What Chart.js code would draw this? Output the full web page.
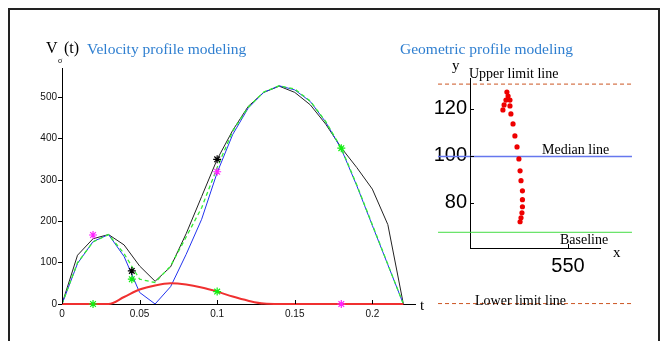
<!DOCTYPE html>
<html lang="en">
<head>
<meta charset="UTF-8">
<title>Velocity and geometric profile modeling</title>
<script src="https://cdn.jsdelivr.net/npm/chart.js"></script>
<style>
  body { margin: 0; width: 665px; height: 341px; background: #fff; position: relative; overflow: hidden; font-family: "Liberation Serif", serif; }
  .frame { position: absolute; left: 8px; top: 8px; width: 648px; height: 400px; border: 2px solid #222; }
  .box { position: absolute; top: 0; height: 341px; }
  .lbl { position: absolute; white-space: nowrap; line-height: 1; font-size: 14px; color: #000; }
  .title { color: #2f7fd0; font-size: 15.5px; }
</style>
</head>
<body>
<div class="frame"></div>
<div class="box" style="left:0;width:440px"><canvas id="velocityChart"></canvas></div>
<div class="box" style="left:420px;width:245px"><canvas id="geometryChart"></canvas></div>

<div class="lbl" style="left:46px;top:40px;font-size:16px">V</div>
<div class="lbl" style="left:58px;top:57px;font-size:8px">σ</div>
<div class="lbl" style="left:64px;top:40px;font-size:16px">(t)</div>
<div class="lbl title" style="left:87px;top:41px">Velocity profile modeling</div>
<div class="lbl" style="left:420px;top:298px;font-size:15px">t</div>

<div class="lbl title" style="left:400px;top:41px">Geometric profile modeling</div>
<div class="lbl" style="left:452px;top:58px;font-size:15px">y</div>
<div class="lbl" style="left:469px;top:67px">Upper limit line</div>
<div class="lbl" style="left:542px;top:143px">Median line</div>
<div class="lbl" style="left:560px;top:233px">Baseline</div>
<div class="lbl" style="left:613px;top:245px;font-size:15px">x</div>
<div class="lbl" style="left:475px;top:294px">Lower limit line</div>

<script>
// ---- velocity profile (left) ----
const tSteps = [0, 0.01, 0.02, 0.03, 0.04, 0.05, 0.06, 0.07, 0.08, 0.09, 0.10, 0.11,
                0.12, 0.13, 0.14, 0.15, 0.16, 0.17, 0.18, 0.19, 0.20, 0.21, 0.22];
const measuredV = [0, 118, 158, 168, 143, 92, 55, 90, 170, 260, 350, 420,
                   478, 512, 527, 512, 482, 435, 378, 330, 278, 192, 0];
const modelV    = [0, 98, 151, 168, 115, 28, 0, 42, 120, 205, 318, 410,
                   474, 512, 528, 518, 490, 440, 375, 286, 190, 95, 0];
const sumV      = [0, 100, 150, 168, 122, 60, 52, 92, 162, 233, 330, 418,
                   476, 513, 528, 520, 491, 441, 377, 288, 192, 96, 0];
const strokeV   = [0, 0, 0, 0, 17, 35, 45, 50, 47, 40, 30, 18,
                   8, 1, 0, 0, 0, 0, 0, 0, 0, 0, 0];

const magentaT = [0.02, 0.10, 0.18];
const magentaV = [167, 320, 0];
const greenT = [0.02, 0.045, 0.10, 0.18];
const greenV = [0, 60, 30, 377];
const blackT = [0.045, 0.10];
const blackV = [80, 350];

const leftXTicks = [0, 0.05, 0.1, 0.15, 0.2];
const leftXLabels = ['0', '0.05', '0.1', '0.15', '0.2'];
const leftYTicks = [0, 100, 200, 300, 400, 500];

// ---- geometric profile (right) ----
const trajX = [529.6, 530.0, 530.4, 530.6, 530.6, 530.6, 530.0, 529.6, 529.1, 528.3,
               527.4, 526.6, 525.7, 525.3, 525.3, 524.5, 524.0, 523.6, 522.8, 522.3];
const trajY = [71.9, 73.6, 75.7, 78.3, 81.3, 85.1, 89.4, 93.6, 98.7, 103.8,
               108.5, 113.6, 117.9, 121.3, 123.8, 125.5, 127.2, 123.8, 121.7, 119.6];
const upperLimit = 130.6;
const medianLine = 99.7;
const baseLine = 67.4;
const lowerLimit = 37;
const refLineX = [494.7, 577.2];
const rightYTicks = [80, 100, 120];
const rightXTicks = [550];

const pts = (xs, ys) => xs.map((x, i) => ({x: x, y: ys[i]}));
const hLine = y => refLineX.map(x => ({x: x, y: y}));

// short tick marks drawn inside the axes
const innerTicks = {
    id: 'innerTicks',
    afterDraw(chart, args, opts) {
        const ctx = chart.ctx;
        const area = chart.chartArea;
        ctx.save();
        ctx.strokeStyle = '#000';
        ctx.lineWidth = 1;
        (opts.x || []).forEach(v => {
            const px = Math.round(chart.scales.x.getPixelForValue(v)) + 0.5;
            ctx.beginPath();
            ctx.moveTo(px, area.bottom);
            ctx.lineTo(px, area.bottom - opts.len);
            ctx.stroke();
        });
        (opts.y || []).forEach(v => {
            const py = Math.round(chart.scales.y.getPixelForValue(v)) + 0.5;
            ctx.beginPath();
            ctx.moveTo(area.left, py);
            ctx.lineTo(area.left + opts.len, py);
            ctx.stroke();
        });
        ctx.restore();
    }
};

const fixTicks = values => scale => { scale.ticks = values.map(v => ({value: v})); };

function star(label, xs, ys, color) {
    return {
        label: label,
        data: pts(xs, ys),
        showLine: false,
        clip: false,
        pointStyle: 'star',
        pointRadius: 4,
        borderWidth: 1.2,
        borderColor: color,
        backgroundColor: color
    };
}

function curve(label, ys, color, width, dash) {
    return {
        label: label,
        data: pts(tSteps, ys),
        borderColor: color,
        borderWidth: width,
        borderDash: dash || [],
        pointRadius: 0,
        tension: 0
    };
}

new Chart(document.getElementById('velocityChart'), {
    type: 'line',
    data: {
        datasets: [
            star('magenta marks', magentaT, magentaV, '#ff22ff'),
            star('green marks', greenT, greenV, '#11ee11'),
            star('black marks', blackT, blackV, '#000'),
            Object.assign(curve('stroke 2', strokeV, '#f03030', 2), {cubicInterpolationMode: 'monotone', clip: 4}),
            curve('sum', sumV, '#33ee33', 1.3, [4, 3]),
            curve('model', modelV, '#2233ee', 1),
            curve('measured', measuredV, '#222', 1)
        ]
    },
    options: {
        responsive: true,
        maintainAspectRatio: false,
        animation: false,
        layout: {padding: {left: 0, right: 25, top: 68, bottom: 17}},
        plugins: {
            legend: {display: false},
            tooltip: {enabled: false},
            innerTicks: {x: leftXTicks, len: 4}
        },
        scales: {
            x: {
                type: 'linear',
                min: 0,
                max: 0.2275,
                afterBuildTicks: fixTicks(leftXTicks),
                afterFit: s => { s.height = 20; },
                grid: {drawOnChartArea: false, drawTicks: false},
                border: {color: '#000', width: 1},
                ticks: {
                    padding: 4,
                    maxRotation: 0,
                    color: '#111',
                    font: {family: 'Liberation Sans', size: 10},
                    callback: (v, i) => leftXLabels[i]
                }
            },
            y: {
                min: 0,
                max: 571,
                afterBuildTicks: fixTicks(leftYTicks),
                afterFit: s => { s.width = 62; },
                grid: {drawOnChartArea: false, drawTicks: true, tickLength: 4, color: '#000'},
                border: {color: '#000', width: 1},
                ticks: {
                    padding: 1,
                    color: '#111',
                    font: {family: 'Liberation Sans', size: 10}
                }
            }
        }
    },
    plugins: [innerTicks]
});

function refLine(label, y, color, width, dash) {
    return {
        label: label,
        data: hLine(y),
        showLine: true,
        clip: false,
        borderColor: color,
        borderWidth: width,
        borderDash: dash || [],
        pointRadius: 0
    };
}

new Chart(document.getElementById('geometryChart'), {
    type: 'scatter',
    data: {
        datasets: [
            {
                label: 'trajectory',
                data: pts(trajX, trajY),
                pointRadius: 2.6,
                borderWidth: 0,
                backgroundColor: '#ee0000'
            },
            refLine('upper limit', upperLimit, '#cc5522', 1, [4, 3]),
            refLine('median', medianLine, '#6677ee', 1.5),
            refLine('baseline', baseLine, '#44dd44', 1),
            refLine('lower limit', lowerLimit, '#cc5522', 1, [4, 3])
        ]
    },
    options: {
        responsive: true,
        maintainAspectRatio: false,
        animation: false,
        layout: {padding: {left: 0, right: 65, top: 78, bottom: 63}},
        plugins: {
            legend: {display: false},
            tooltip: {enabled: false},
            innerTicks: {x: rightXTicks, y: rightYTicks, len: 4}
        },
        scales: {
            x: {
                type: 'linear',
                min: 508.3,
                max: 563.6,
                afterBuildTicks: fixTicks(rightXTicks),
                afterFit: s => { s.height = 30; },
                grid: {drawOnChartArea: false, drawTicks: false},
                border: {color: '#000', width: 1},
                ticks: {
                    padding: 6,
                    maxRotation: 0,
                    color: '#000',
                    font: {family: 'Liberation Sans', size: 20},
                    callback: v => String(v)
                }
            },
            y: {
                min: 60.7,
                max: 133.2,
                afterBuildTicks: fixTicks(rightYTicks),
                afterFit: s => { s.width = 50; },
                grid: {drawOnChartArea: false, drawTicks: false},
                border: {color: '#000', width: 1},
                ticks: {
                    padding: 3,
                    color: '#000',
                    font: {family: 'Liberation Sans', size: 20},
                    callback: v => String(v)
                }
            }
        }
    },
    plugins: [innerTicks]
});
</script>
</body>
</html>
